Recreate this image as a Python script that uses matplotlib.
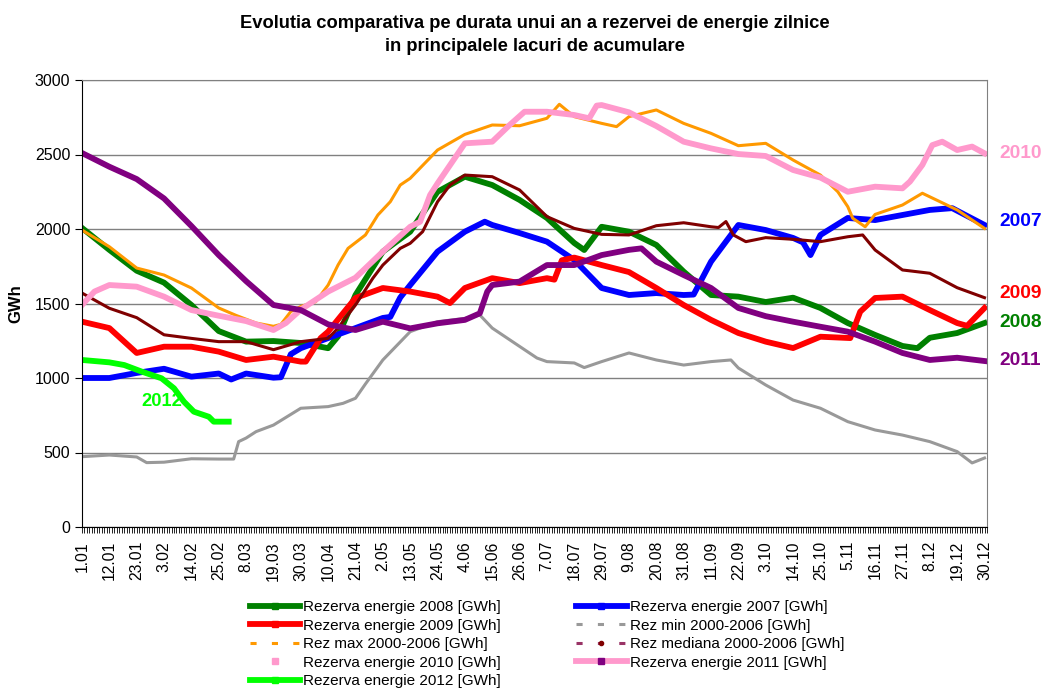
"""
Rezerva de energie zilnica in principalele lacuri de acumulare
comparatie pe durata unui an, 2007-2012 vs. min/max/mediana 2000-2006
"""
import matplotlib
matplotlib.use('Agg')
import matplotlib.pyplot as plt
from matplotlib.lines import Line2D
from matplotlib.ticker import MultipleLocator

plt.rcParams['font.family'] = ['Liberation Sans', 'DejaVu Sans']

# etichete axa x: din 11 in 11 zile (ziua 0 = 1 ian)
tick_days = list(range(0, 364, 11))
tick_labels = ['1.01', '12.01', '23.01', '3.02', '14.02', '25.02', '8.03', '19.03',
               '30.03', '10.04', '21.04', '2.05', '13.05', '24.05', '4.06', '15.06',
               '26.06', '7.07', '18.07', '29.07', '9.08', '20.08', '31.08', '11.09',
               '22.09', '3.10', '14.10', '25.10', '5.11', '16.11', '27.11', '8.12',
               '19.12', '30.12']

# valori [GWh], zi din an -> rezerva
d2008 = [0, 11, 22, 33, 44, 55, 66, 77, 88, 99, 103, 110, 121, 132, 143, 154, 165, 176,
         187, 198, 202, 209, 220, 231, 242, 253, 264, 275, 286, 297, 308, 319, 330, 336,
         341, 352, 363]
v2008 = [2007, 1860, 1720, 1640, 1490, 1315, 1244, 1248, 1235, 1200, 1280, 1557, 1848,
         1982, 2250, 2351, 2295, 2195, 2074, 1906, 1859, 2015, 1982, 1893, 1714, 1557,
         1546, 1510, 1539, 1470, 1369, 1289, 1215, 1200, 1270, 1302, 1369]

d2007 = [0, 11, 22, 33, 44, 55, 60, 66, 77, 80, 84, 88, 99, 110, 121, 124, 128, 132, 143,
         154, 162, 165, 176, 187, 198, 209, 220, 231, 242, 246, 253, 264, 275, 286, 290,
         293, 297, 308, 319, 330, 341, 350, 363]
v2007 = [1000, 1000, 1034, 1062, 1009, 1030, 990, 1030, 1002, 1005, 1160, 1200, 1268,
         1335, 1403, 1410, 1540, 1624, 1848, 1982, 2049, 2027, 1973, 1915, 1792, 1604,
         1557, 1570, 1557, 1560, 1781, 2027, 1993, 1940, 1910, 1825, 1960, 2074, 2060,
         2094, 2128, 2140, 2027]

d2009 = [0, 11, 22, 33, 44, 55, 66, 77, 88, 90, 96, 99, 110, 121, 132, 143, 148, 154, 165,
         176, 187, 190, 193, 198, 209, 220, 231, 242, 253, 264, 275, 286, 297, 309, 313,
         319, 330, 341, 352, 356, 363]
v2009 = [1378, 1335, 1168, 1210, 1210, 1177, 1121, 1143, 1110, 1110, 1268, 1311, 1537,
         1604, 1580, 1546, 1503, 1604, 1670, 1637, 1670, 1660, 1790, 1808, 1758, 1711,
         1604, 1490, 1390, 1302, 1244, 1201, 1277, 1268, 1445, 1537, 1546, 1456, 1369,
         1350, 1470]

d_min = [0, 11, 22, 26, 33, 44, 55, 61, 63, 66, 70, 77, 88, 99, 105, 110, 114, 121, 132,
         143, 154, 160, 165, 176, 183, 187, 198, 202, 209, 220, 231, 242, 253, 261, 264,
         275, 286, 297, 308, 319, 330, 341, 352, 358, 363]
v_min = [472, 483, 470, 432, 435, 458, 456, 456, 573, 597, 640, 684, 797, 808, 830, 864,
         960, 1121, 1311, 1378, 1400, 1423, 1335, 1212, 1134, 1110, 1101, 1070, 1110,
         1168, 1121, 1087, 1110, 1121, 1067, 953, 852, 797, 707, 651, 617, 573, 506, 430,
         463]

d_max = [0, 11, 22, 33, 44, 55, 62, 70, 77, 80, 84, 88, 94, 99, 103, 107, 114, 119, 124,
         128, 132, 143, 154, 165, 176, 187, 192, 198, 209, 215, 220, 231, 242, 253, 264,
         275, 286, 297, 304, 308, 310, 315, 319, 330, 338, 352, 363]
v_max = [1993, 1881, 1738, 1691, 1604, 1470, 1420, 1369, 1347, 1360, 1446, 1480, 1512,
         1624, 1759, 1870, 1960, 2094, 2183, 2295, 2340, 2530, 2635, 2698, 2693, 2743,
         2837, 2754, 2709, 2687, 2754, 2799, 2709, 2642, 2559, 2575, 2463, 2362, 2250,
         2150, 2072, 2015, 2098, 2161, 2240, 2128, 2004]

d_med = [0, 11, 22, 33, 44, 55, 66, 77, 88, 99, 103, 110, 117, 121, 128, 132, 137, 143,
         148, 154, 165, 176, 187, 198, 209, 220, 231, 242, 253, 256, 259, 262, 267, 275,
         286, 297, 308, 314, 319, 330, 341, 352, 363]
v_med = [1570, 1468, 1405, 1290, 1266, 1244, 1244, 1190, 1244, 1266, 1335, 1490, 1670,
         1758, 1870, 1904, 1982, 2183, 2295, 2362, 2351, 2262, 2083, 2004, 1964, 1960,
         2022, 2042, 2015, 2010, 2050, 1960, 1915, 1942, 1931, 1915, 1948, 1960, 1859,
         1725, 1703, 1606, 1539]

d2010 = [0, 5, 11, 22, 33, 44, 55, 66, 77, 82, 88, 99, 110, 121, 132, 136, 140, 143, 154,
         165, 172, 178, 187, 198, 204, 207, 209, 220, 231, 242, 253, 264, 275, 286, 297,
         308, 319, 330, 333, 338, 342, 346, 352, 358, 363]
v2010 = [1490, 1580, 1624, 1613, 1546, 1456, 1418, 1382, 1322, 1369, 1459, 1580, 1673,
         1848, 2015, 2049, 2228, 2306, 2575, 2586, 2698, 2787, 2787, 2765, 2743, 2828,
         2832, 2783, 2691, 2586, 2541, 2503, 2490, 2396, 2345, 2250, 2284, 2273, 2318,
         2430, 2563, 2586, 2530, 2553, 2508]

d2011 = [0, 11, 22, 33, 44, 55, 66, 77, 88, 99, 110, 121, 132, 143, 154, 160, 163, 165,
         176, 187, 198, 209, 220, 225, 231, 242, 253, 264, 275, 286, 297, 308, 319, 330,
         341, 352, 363]
v2011 = [2510, 2418, 2335, 2205, 2020, 1825, 1650, 1490, 1456, 1360, 1322, 1378, 1333,
         1367, 1390, 1434, 1580, 1624, 1647, 1758, 1758, 1825, 1860, 1870, 1781, 1691,
         1604, 1470, 1415, 1378, 1344, 1311, 1244, 1168, 1121, 1136, 1114]

d2012 = [0, 11, 17, 24, 32, 37, 41, 45, 51, 53, 59]
v2012 = [1121, 1105, 1087, 1043, 998, 931, 841, 774, 740, 707, 707]

C2008, C2007, C2009 = '#008000', '#0000FF', '#FF0000'
CMIN, CMAX, CMED = '#999999', '#FF9900', '#800000'
C2010, C2011, C2012 = '#FF99CC', '#800080', '#00FF00'

fig = plt.figure(figsize=(10.45, 6.88), dpi=100)
ax = fig.add_axes([82 / 1045, 161 / 688, 905 / 1045, 447 / 688])

thick, thin = 4.2, 2.2
ax.plot(d2008, v2008, color=C2008, lw=thick)
ax.plot(d2007, v2007, color=C2007, lw=thick)
ax.plot(d2009, v2009, color=C2009, lw=thick)
ax.plot(d_min, v_min, color=CMIN, lw=thin)
ax.plot(d_max, v_max, color=CMAX, lw=thin)
ax.plot(d_med, v_med, color=CMED, lw=thin)
ax.plot(d2010, v2010, color=C2010, lw=thick)
ax.plot(d2011, v2011, color=C2011, lw=thick)
ax.plot(d2012, v2012, color=C2012, lw=thick)

ax.set_xlim(0, 364)
ax.set_ylim(0, 3000)
ax.yaxis.set_major_locator(MultipleLocator(500))
ax.grid(axis='y', color='#808080', lw=1)
ax.set_axisbelow(True)
ax.set_xticks(tick_days)
ax.set_xticklabels(tick_labels, rotation=90, fontsize=11.3)
ax.xaxis.set_minor_locator(MultipleLocator(1))
ax.tick_params(axis='x', which='both', direction='out', length=4, width=0.6, pad=6)
ax.tick_params(axis='y', direction='out', length=5, labelsize=11.5)
for s in ('top', 'right'):
    ax.spines[s].set_color('#808080')
ax.set_ylabel('GWh', fontsize=12, fontweight='bold', labelpad=8)
ax.set_title('Evolutia comparativa pe durata unui an a rezervei de energie zilnice\n'
             'in principalele lacuri de acumulare',
             fontsize=13.2, fontweight='bold', pad=21, linespacing=1.42)

# etichete ani la capatul din dreapta
for yr, yv, c in [('2010', 2510, C2010), ('2007', 2050, C2007), ('2009', 1565, C2009),
                  ('2008', 1370, C2008), ('2011', 1115, C2011)]:
    ax.text(369, yv, yr, color=c, fontsize=13.8, fontweight='bold',
            va='center', ha='left', clip_on=False)
ax.text(32, 840, '2012', color=C2012, fontsize=13.2, fontweight='bold',
        va='center', ha='center')

handles = [
    Line2D([], [], color=C2008, lw=thick, marker='s', ms=4),
    Line2D([], [], color=C2009, lw=thick, marker='s', ms=4),
    Line2D([], [], color=CMAX, lw=thin, ls=(0, (2, 5))),
    Line2D([], [], color=C2010, lw=0, marker='s', ms=5),
    Line2D([], [], color=C2012, lw=thick, marker='s', ms=4),
    Line2D([], [], color=C2007, lw=thick, marker='s', ms=4),
    Line2D([], [], color=CMIN, lw=thin, ls=(0, (2, 5))),
    Line2D([], [], color='#993366', lw=thin, ls=(0, (2, 5)), marker='o', ms=3,
           mfc=CMED, mec=CMED, markevery=[1]),
    Line2D([], [], color=C2010, lw=thick, marker='s', ms=5, mfc=C2011, mec=C2011),
]
labels = ['Rezerva energie 2008 [GWh]', 'Rezerva energie 2009 [GWh]',
          'Rez max 2000-2006 [GWh]', 'Rezerva energie 2010 [GWh]',
          'Rezerva energie 2012 [GWh]', 'Rezerva energie 2007 [GWh]',
          'Rez min 2000-2006 [GWh]', 'Rez mediana 2000-2006 [GWh]',
          'Rezerva energie 2011 [GWh]']
fig.legend(handles, labels, ncol=2, loc='upper left',
           bbox_to_anchor=(250 / 1045, 1 - 600 / 688), frameon=False,
           fontsize=11, handlelength=3.3, handletextpad=0.2,
           columnspacing=4.9, labelspacing=0.3, borderpad=0, borderaxespad=0)

fig.savefig('out.png', dpi=100)
